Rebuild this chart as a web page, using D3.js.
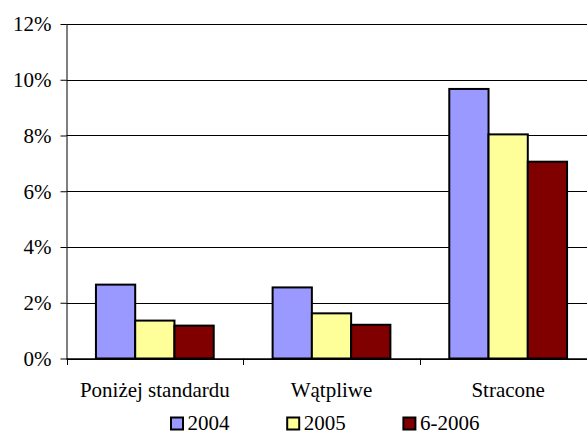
<!DOCTYPE html>
<html>
<head>
<meta charset="utf-8">
<script src="https://cdn.jsdelivr.net/npm/d3@7"></script>
<style>
  html, body { margin: 0; padding: 0; background: #fff; }
  svg { display: block; }
  svg text { font-family: "Liberation Serif", Tinos, "Times New Roman", Times, "DejaVu Serif", serif; fill: #000; }
</style>
</head>
<body>
<svg id="chart" width="587" height="434"></svg>
<script>
// Loan quality shares by category and period
const categories = ["Poniżej standardu", "Wątpliwe", "Stracone"];
const series = ["2004", "2005", "6-2006"];
const values2004 = [0.0265, 0.0255, 0.0967];
const values2005 = [0.0136, 0.0162, 0.0804];
const values2006 = [0.0118, 0.0121, 0.0706];
const yTicks = [0, 0.02, 0.04, 0.06, 0.08, 0.10, 0.12];
const colors = ["#9999FF", "#FFFF99", "#800000"];

const seriesValues = [values2004, values2005, values2006];
const rows = categories.map((c, i) => ({
  category: c,
  values: series.map((s, j) => ({ series: s, value: seriesValues[j][i], color: colors[j] }))
}));

const serifStack = "'Liberation Serif', Tinos, 'Times New Roman', Times, 'DejaVu Serif', serif";
const svg = d3.select("#chart").attr("font-family", serifStack);
const plotLeft = 66.5, plotRight = 596.5, plotTop = 24, plotBottom = 358.5;

const x = d3.scaleBand().domain(categories).range([plotLeft, plotRight]).padding(0);
const xInner = d3.scaleBand().domain(series).range([0, x.bandwidth()])
  .paddingInner(0).paddingOuter(0.75);
const y = d3.scaleLinear().domain([0, 0.12]).range([plotBottom, plotTop]);

// horizontal gridlines
svg.append("g").selectAll("line").data(yTicks).join("line")
  .attr("x1", plotLeft).attr("x2", plotRight)
  .attr("y1", d => Math.round(y(d)) + 0.5).attr("y2", d => Math.round(y(d)) + 0.5)
  .attr("stroke", "#000").attr("stroke-width", 1);

// bars
const groups = svg.append("g").selectAll("g").data(rows).join("g")
  .attr("transform", d => `translate(${x(d.category)},0)`);
groups.selectAll("rect").data(d => d.values).join("rect")
  .attr("x", d => xInner(d.series))
  .attr("y", d => y(d.value))
  .attr("width", xInner.bandwidth())
  .attr("height", d => y(0) - y(d.value))
  .attr("fill", d => d.color)
  .attr("stroke", "#000")
  .attr("stroke-width", 2);

// y axis
const yAxis = svg.append("g")
  .attr("transform", `translate(${plotLeft},0)`)
  .call(d3.axisLeft(y).tickValues(yTicks).tickFormat(d3.format(".0%")).tickSize(6).tickPadding(9))
  .attr("font-family", serifStack)
  .attr("font-size", 21);
yAxis.select(".domain").attr("stroke", "#000").attr("d", `M0.5,${plotTop}V${plotBottom + 0.5}`);
yAxis.selectAll(".tick line").attr("stroke", "#000");
yAxis.selectAll(".tick text").attr("dy", "0.33em");

// x axis: baseline, boundary ticks, category labels
const xAxis = svg.append("g");
xAxis.append("line")
  .attr("x1", plotLeft).attr("x2", plotRight)
  .attr("y1", y(0) + 0.5).attr("y2", y(0) + 0.5)
  .attr("stroke", "#000").attr("stroke-width", 1.5);
const boundaries = categories.map(c => x(c)).concat([x(categories[categories.length - 1]) + x.bandwidth()]);
xAxis.selectAll("line.tick").data(boundaries).join("line")
  .attr("class", "tick")
  .attr("x1", d => Math.round(d) + 0.5).attr("x2", d => Math.round(d) + 0.5)
  .attr("y1", y(0)).attr("y2", y(0) + 6.5)
  .attr("stroke", "#000");
xAxis.selectAll("text").data(categories).join("text")
  .attr("x", d => x(d) + x.bandwidth() / 2)
  .attr("y", 397)
  .attr("text-anchor", "middle")
  .attr("font-size", 21)
  .text(d => d);

// legend
const legend = svg.append("g").selectAll("g").data(series).join("g")
  .attr("transform", (d, i) => `translate(${170 + i * 116.2},0)`);
legend.append("rect")
  .attr("x", 1).attr("y", 417.5).attr("width", 12).attr("height", 12)
  .attr("fill", (d, i) => colors[i]).attr("stroke", "#000").attr("stroke-width", 2);
legend.append("text")
  .attr("x", 17.5).attr("y", 429.5)
  .attr("font-size", 21)
  .text(d => d);
</script>
</body>
</html>
